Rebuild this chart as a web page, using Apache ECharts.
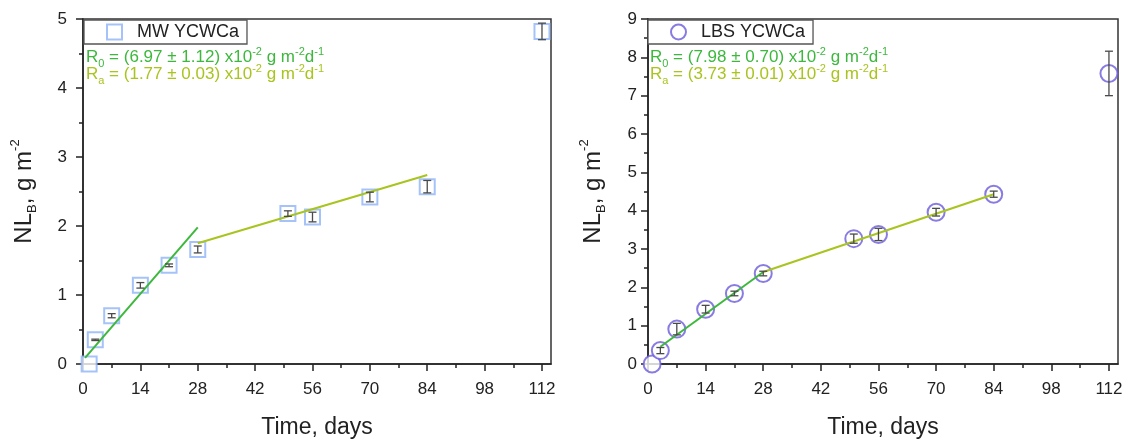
<!DOCTYPE html>
<html>
<head>
<meta charset="utf-8">
<script src="https://cdn.jsdelivr.net/npm/echarts@6/dist/echarts.min.js"></script>
<style>
  html, body { margin: 0; padding: 0; background: #fff; }
  #main { width: 1128px; height: 444px; }
</style>
</head>
<body>
<div id="main"></div>
<script>
// tick positions on the time axis
var xTicks = [0, 14, 28, 42, 56, 70, 84, 98, 112];
var xMinor = [7, 21, 35, 49, 63, 77, 91, 105];

// MW YCWCa (left panel)
var mwDays   = [1.5, 3, 7, 14, 21, 28, 50, 56, 70, 84, 112];
var mwValues = [0, 0.35, 0.70, 1.14, 1.43, 1.66, 2.18, 2.13, 2.42, 2.57, 4.82];
var mwErrors = [0, 0.01, 0.03, 0.04, 0.02, 0.05, 0.04, 0.07, 0.07, 0.09, 0.12];
var mwR0Line = [[0.5, 0.09], [28, 1.98]];
var mwRaLine = [[28, 1.75], [84, 2.74]];

// LBS YCWCa (right panel)
var lbsDays   = [1, 3, 7, 14, 21, 28, 50, 56, 70, 84, 112];
var lbsValues = [0, 0.35, 0.91, 1.43, 1.84, 2.36, 3.27, 3.38, 3.96, 4.43, 7.58];
var lbsErrors = [0, 0.08, 0.15, 0.1, 0.06, 0.06, 0.12, 0.16, 0.1, 0.08, 0.58];
var lbsR0Line = [[3, 0.45], [28, 2.40]];
var lbsRaLine = [[28, 2.40], [84, 4.43]];

var FONT = 'Arial, "Liberation Sans", sans-serif';
var AXIS = '#222';
var GREEN = '#3db83d';
var LIME = '#a8c41f';

function pairs(xs, ys) {
  return xs.map(function (x, i) { return [x, ys[i]]; });
}
function errData(xs, ys, es) {
  var out = [];
  xs.forEach(function (x, i) {
    if (es[i] > 0) out.push([x, ys[i] - es[i], ys[i] + es[i]]);
  });
  return out;
}
function renderErr(params, api) {
  var lo = api.coord([api.value(0), api.value(1)]);
  var hi = api.coord([api.value(0), api.value(2)]);
  var w = 4;
  var st = { stroke: '#4a4a4a', lineWidth: 1.3 };
  return {
    type: 'group',
    children: [
      { type: 'line', shape: { x1: lo[0], y1: lo[1], x2: hi[0], y2: hi[1] }, style: st },
      { type: 'line', shape: { x1: lo[0] - w, y1: lo[1], x2: lo[0] + w, y2: lo[1] }, style: st },
      { type: 'line', shape: { x1: hi[0] - w, y1: hi[1], x2: hi[0] + w, y2: hi[1] }, style: st }
    ]
  };
}

function mainX(gridIndex) {
  return {
    type: 'value', gridIndex: gridIndex, min: 0, max: 114.2,
    axisLine: { onZero: false, lineStyle: { color: AXIS, width: 1.5 } },
    axisTick: { customValues: xTicks, length: 7, lineStyle: { color: AXIS, width: 1.5 } },
    axisLabel: { customValues: xTicks, margin: 17, fontSize: 17, color: '#222', fontFamily: FONT },
    splitLine: { show: false },
    name: 'Time, days', nameLocation: 'middle', nameGap: 52,
    nameTextStyle: { fontSize: 23, color: '#222', fontFamily: FONT }
  };
}
function minorX(gridIndex) {
  return {
    type: 'value', gridIndex: gridIndex, min: 0, max: 114.2, position: 'bottom',
    axisLine: { show: false },
    axisTick: { customValues: xMinor, length: 4, lineStyle: { color: AXIS, width: 1.5 } },
    axisLabel: { show: false },
    splitLine: { show: false }
  };
}
function yAxis(gridIndex, max, labelMargin, nameGap) {
  return {
    type: 'value', gridIndex: gridIndex, min: 0, max: max, interval: 1,
    axisLine: { show: true, onZero: false, lineStyle: { color: AXIS, width: 1.5 } },
    axisTick: { show: true, length: 7, lineStyle: { color: AXIS, width: 1.5 } },
    minorTick: { show: true, splitNumber: 2, length: 4, lineStyle: { color: AXIS, width: 1.5 } },
    axisLabel: { margin: labelMargin, fontSize: 17, color: '#222', fontFamily: FONT },
    splitLine: { show: false },
    name: '{n|NL}{sub|B}{n|, g m}{sup|-2}',
    nameLocation: 'middle', nameGap: nameGap, nameRotate: 90,
    nameTextStyle: {
      fontFamily: FONT, color: '#222',
      rich: {
        n: { fontSize: 24, fontFamily: FONT, color: '#222' },
        sub: { fontSize: 13, fontFamily: FONT, color: '#222', verticalAlign: 'bottom', lineHeight: 30 },
        sup: { fontSize: 13, fontFamily: FONT, color: '#222', verticalAlign: 'top', lineHeight: 30 }
      }
    }
  };
}
function rateText(left, top, label, value, color) {
  var base = { fontSize: 17, fontFamily: FONT, fill: color };
  return {
    type: 'text', left: left, top: top, z: 20,
    style: {
      text: '{b|R}{s|' + label + '}{b| = (' + value + ') x10}{p|-2}{b| g m}{p|-2}{b|d}{p|-1}',
      rich: {
        b: Object.assign({ lineHeight: 18 }, base),
        s: Object.assign({}, base, { fontSize: 11, verticalAlign: 'bottom', lineHeight: 23 }),
        p: Object.assign({}, base, { fontSize: 11, verticalAlign: 'top', lineHeight: 18 })
      }
    }
  };
}
function legend(left, name) {
  return {
    left: left, top: 20, orient: 'horizontal',
    data: [name],
    padding: [3, 8, 3, 22],
    itemWidth: 15, itemHeight: 15,
    borderColor: '#555', borderWidth: 1.3, borderRadius: 0,
    backgroundColor: '#fff',
    textStyle: { fontSize: 18, color: '#222', fontFamily: FONT, padding: [0, 0, 0, 10] },
    selectedMode: false
  };
}

var chart = echarts.init(document.getElementById('main'));
chart.setOption({
  animation: false,
  backgroundColor: '#fff',
  grid: [
    { left: 83, top: 19, width: 468, height: 345, show: true, borderColor: '#333', borderWidth: 1.5, outerBoundsMode: 'none' },
    { left: 648, top: 19, width: 470, height: 345, show: true, borderColor: '#333', borderWidth: 1.5, outerBoundsMode: 'none' }
  ],
  xAxis: [mainX(0), minorX(0), mainX(1), minorX(1)],
  yAxis: [yAxis(0, 5, 16, 44), yAxis(1, 9, 11, 40)],
  legend: [legend(84, 'MW YCWCa'), legend(648, 'LBS YCWCa')],
  series: [
    {
      name: 'MW YCWCa', type: 'scatter', xAxisIndex: 0, yAxisIndex: 0,
      symbol: 'emptyRect', symbolSize: 15, z: 2,
      itemStyle: { color: '#8fb4f7', borderColor: '#8fb4f7', borderWidth: 2 },
      data: pairs(mwDays, mwValues)
    },
    {
      type: 'line', xAxisIndex: 0, yAxisIndex: 0, showSymbol: false, z: 3,
      lineStyle: { color: GREEN, width: 2 }, data: mwR0Line
    },
    {
      type: 'line', xAxisIndex: 0, yAxisIndex: 0, showSymbol: false, z: 3,
      lineStyle: { color: LIME, width: 2 }, data: mwRaLine
    },
    {
      type: 'custom', xAxisIndex: 0, yAxisIndex: 0, z: 4,
      renderItem: renderErr, encode: { x: 0, y: [1, 2] },
      data: errData(mwDays, mwValues, mwErrors)
    },
    {
      name: 'LBS YCWCa', type: 'scatter', xAxisIndex: 2, yAxisIndex: 1,
      symbol: 'emptyCircle', symbolSize: 17, z: 2,
      itemStyle: { color: '#6a5bdc', borderColor: '#6a5bdc', borderWidth: 2 },
      data: pairs(lbsDays, lbsValues)
    },
    {
      type: 'line', xAxisIndex: 2, yAxisIndex: 1, showSymbol: false, z: 3,
      lineStyle: { color: GREEN, width: 2 }, data: lbsR0Line
    },
    {
      type: 'line', xAxisIndex: 2, yAxisIndex: 1, showSymbol: false, z: 3,
      lineStyle: { color: LIME, width: 2 }, data: lbsRaLine
    },
    {
      type: 'custom', xAxisIndex: 2, yAxisIndex: 1, z: 4,
      renderItem: renderErr, encode: { x: 0, y: [1, 2] },
      data: errData(lbsDays, lbsValues, lbsErrors)
    }
  ],
  graphic: [
    rateText(86, 46, '0', '6.97 \u00b1 1.12', GREEN),
    rateText(86, 63, 'a', '1.77 \u00b1 0.03', LIME),
    rateText(650, 46, '0', '7.98 \u00b1 0.70', GREEN),
    rateText(650, 63, 'a', '3.73 \u00b1 0.01', LIME)
  ]
});
</script>
</body>
</html>
